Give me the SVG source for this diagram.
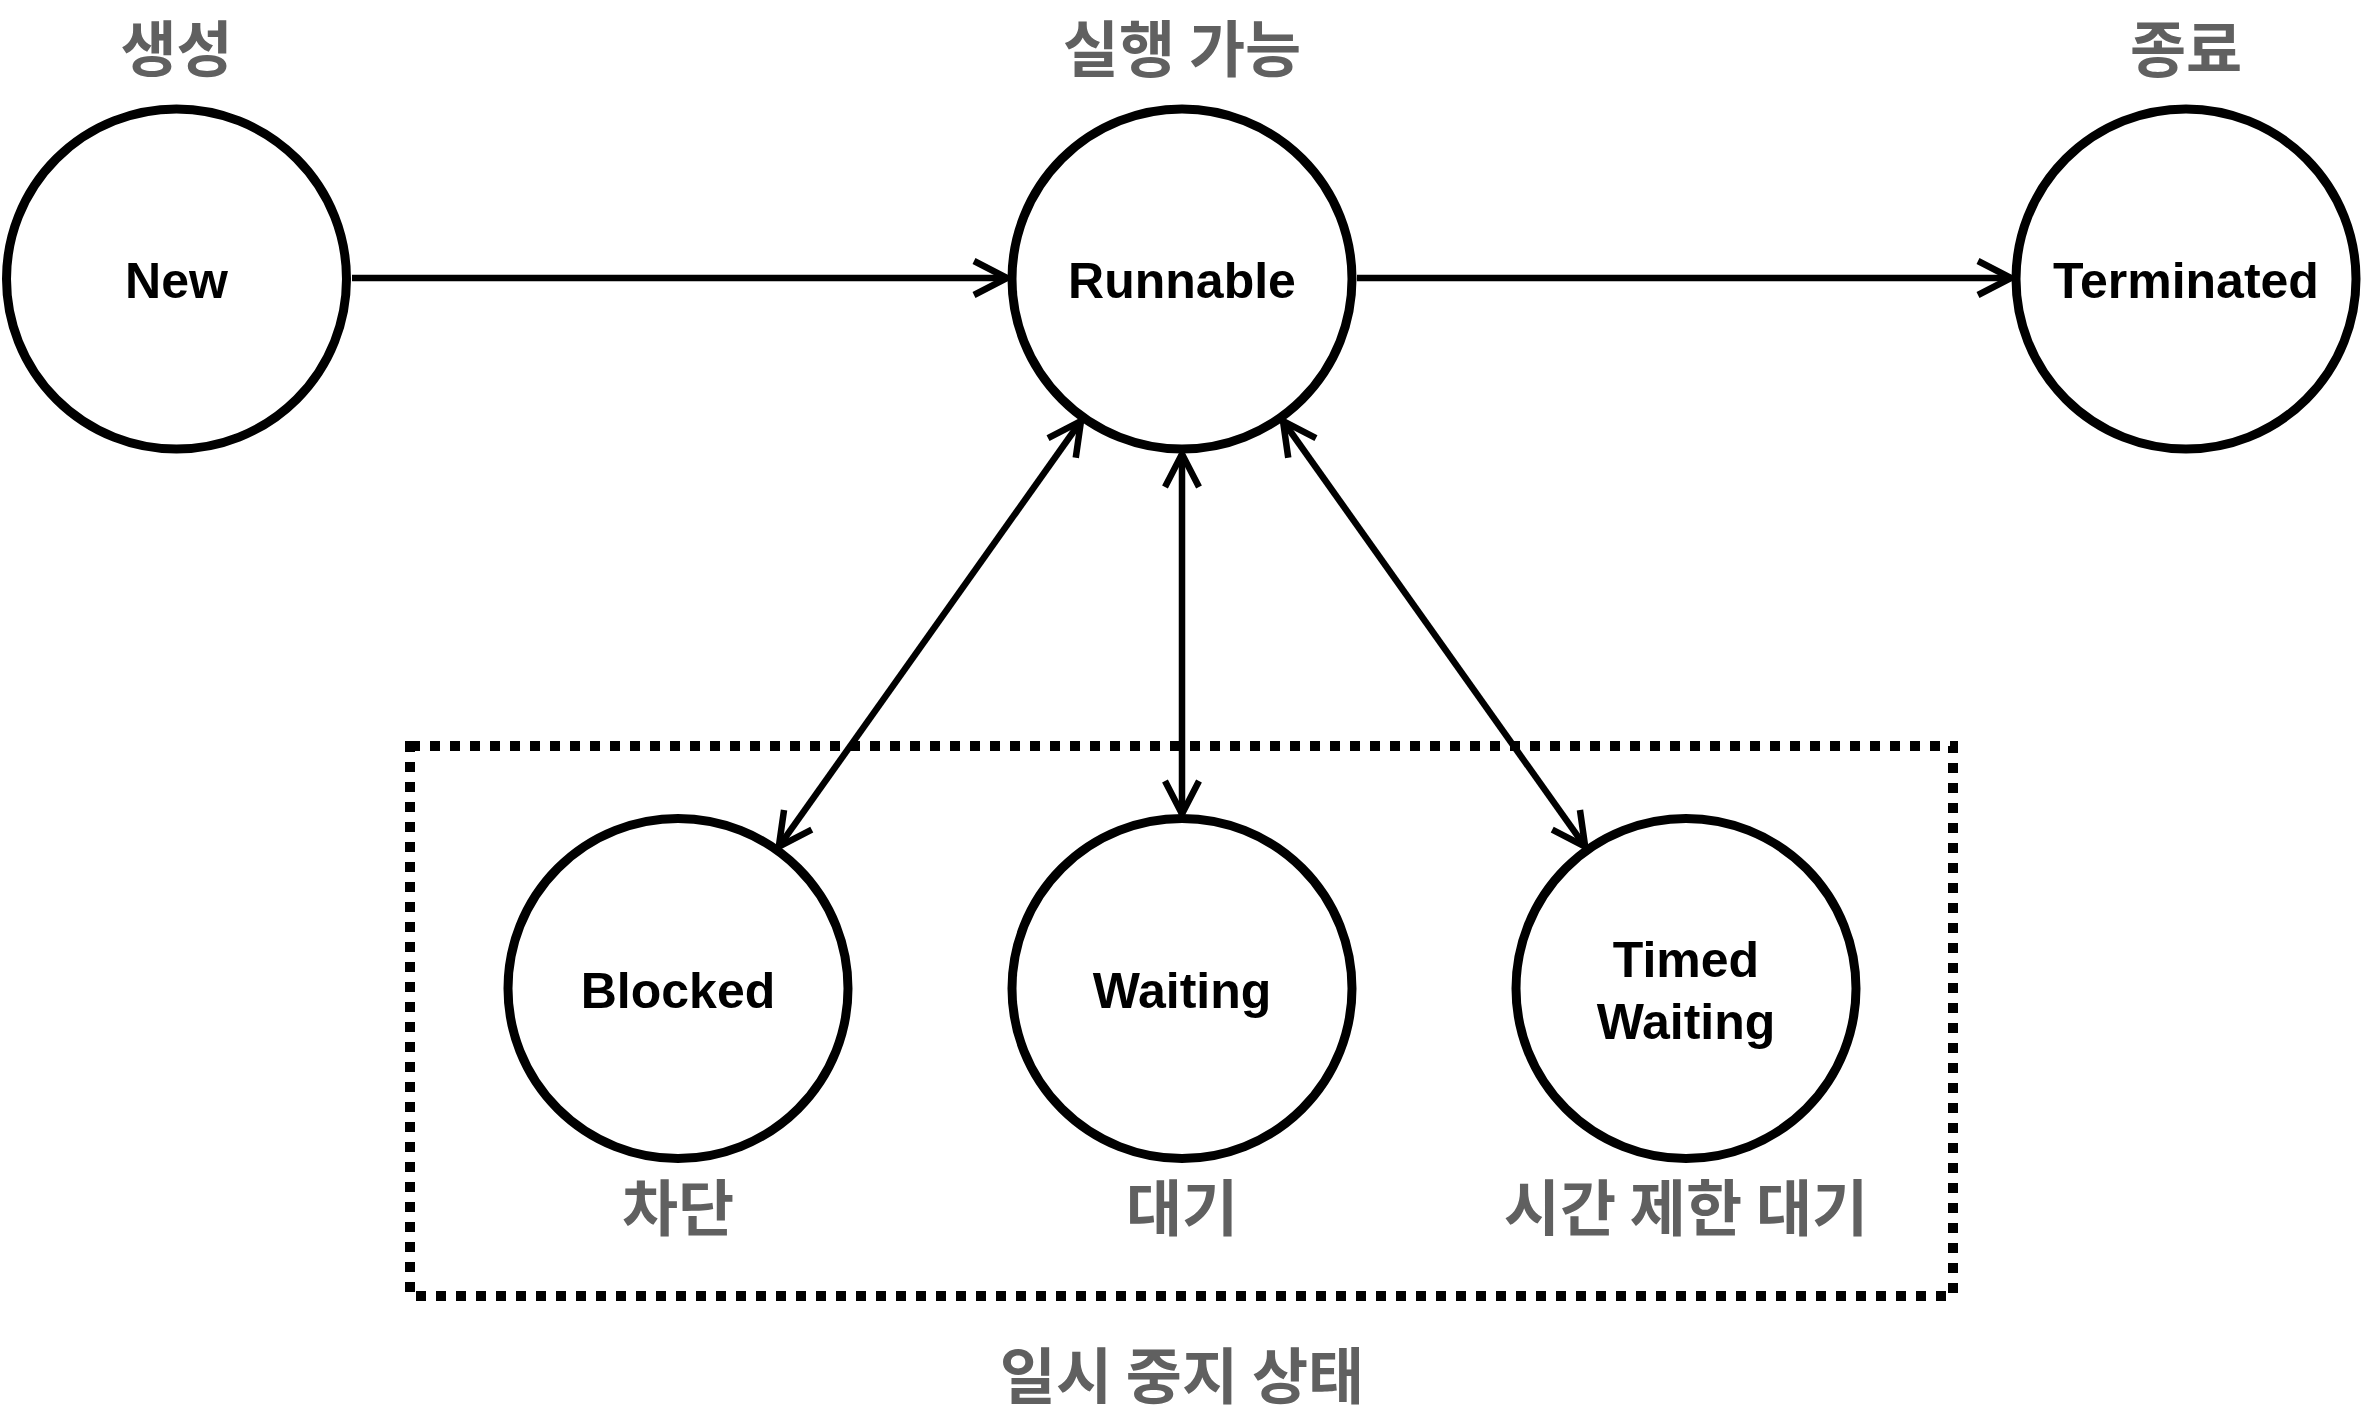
<svg xmlns="http://www.w3.org/2000/svg" width="2364" height="1426" viewBox="0 0 2364 1426">
  <style>
    .state { fill: #ffffff; stroke: #000000; stroke-width: 9; }
    .name { font-family: "Liberation Sans", Arial, sans-serif; font-weight: bold; font-size: 50px; fill: #000000; text-anchor: middle; }
    .kr { font-family: "Noto Sans CJK KR", "Noto Sans", sans-serif; font-weight: bold; font-size: 61px; fill: #606060; text-anchor: middle; }
    .edge { fill: none; stroke: #000000; stroke-width: 6.5; marker-end: url(#arrow); }
    .both { marker-start: url(#arrow); }
    .group { fill: none; stroke: #000000; stroke-width: 10; stroke-dasharray: 10 10; }
  </style>
  <defs>
    <marker id="arrow" markerUnits="userSpaceOnUse" markerWidth="60" markerHeight="60" refX="36" refY="20" orient="auto-start-reverse" overflow="visible">
      <path d="M3,3 L36,20 L3,37" fill="none" stroke="#000000" stroke-width="6.5" stroke-linejoin="miter"/>
    </marker>
  </defs>
  <rect width="2364" height="1426" fill="#ffffff"/>

  <g id="paused-group">
    <rect class="group" x="410" y="746" width="1543" height="550"/>
    <text class="kr" x="1182" y="1399">일시 중지 상태</text>
  </g>

  <g id="connectors">
    <line class="edge" x1="352" y1="278" x2="1007" y2="278"/>
    <line class="edge" x1="1357" y1="278" x2="2011" y2="278"/>
    <line class="edge both" x1="1081" y1="421" x2="778.8" y2="846.7"/>
    <line class="edge both" x1="1182" y1="454" x2="1182" y2="814"/>
    <line class="edge both" x1="1283" y1="421" x2="1585.2" y2="846.7"/>
  </g>

  <g id="node-new">
    <circle class="state" cx="176.5" cy="279" r="170"/>
    <text class="name" x="176.5" y="298">New</text>
    <text class="kr" x="176.5" y="72">생성</text>
  </g>
  <g id="node-runnable">
    <circle class="state" cx="1182" cy="279" r="170"/>
    <text class="name" x="1182" y="298">Runnable</text>
    <text class="kr" x="1182" y="72">실행 가능</text>
  </g>
  <g id="node-terminated">
    <circle class="state" cx="2186" cy="279" r="170"/>
    <text class="name" x="2186" y="298">Terminated</text>
    <text class="kr" x="2186" y="72">종료</text>
  </g>
  <g id="node-blocked">
    <circle class="state" cx="678" cy="988.5" r="170"/>
    <text class="name" x="678" y="1007.5">Blocked</text>
    <text class="kr" x="678" y="1231">차단</text>
  </g>
  <g id="node-waiting">
    <circle class="state" cx="1182" cy="988.5" r="170"/>
    <text class="name" x="1182" y="1007.5">Waiting</text>
    <text class="kr" x="1182" y="1231">대기</text>
  </g>
  <g id="node-timed-waiting">
    <circle class="state" cx="1686" cy="988.5" r="170"/>
    <text class="name" x="1686" y="976.5">Timed</text>
    <text class="name" x="1686" y="1038.5">Waiting</text>
    <text class="kr" x="1686" y="1231">시간 제한 대기</text>
  </g>
</svg>
